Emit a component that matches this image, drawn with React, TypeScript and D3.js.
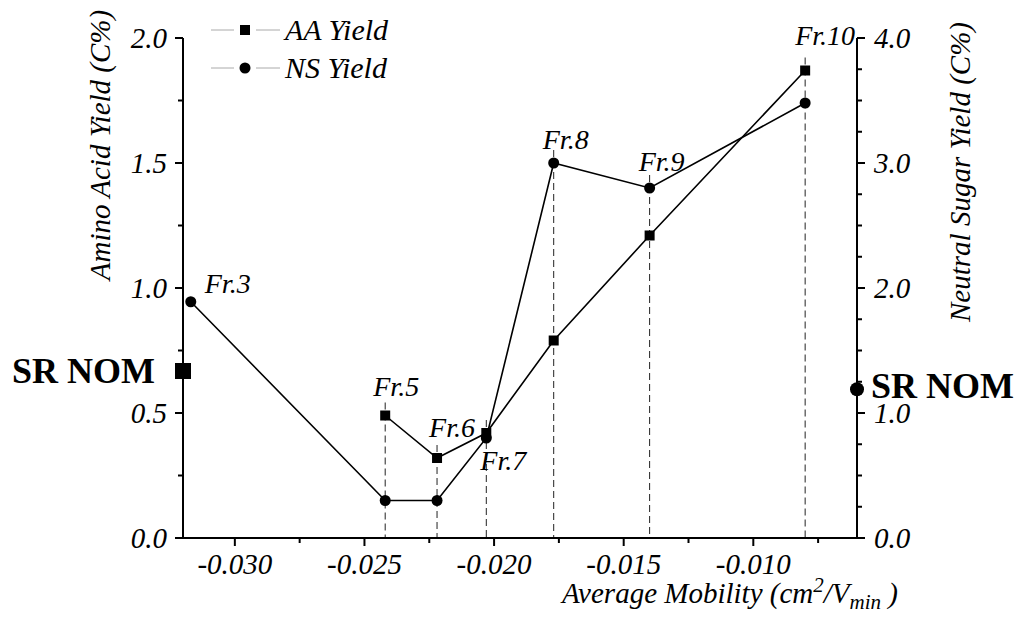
import React from "react";
import * as d3 from "d3";

// Fractions and their average electrophoretic mobility (cm2/V min)
const fractions = ["Fr.3", "Fr.5", "Fr.6", "Fr.7", "Fr.8", "Fr.9", "Fr.10"];
const mobility = [-0.0317, -0.0242, -0.0222, -0.0203, -0.0177, -0.014, -0.008];
// Amino acid yield (C%), left axis; Fr.3 has no AA value
const aaYield: (number | null)[] = [null, 0.49, 0.32, 0.42, 0.79, 1.21, 1.87];
// Neutral sugar yield (C%), right axis
const nsYield = [1.89, 0.3, 0.3, 0.8, 3.0, 2.8, 3.48];
// Bulk SR NOM reference values
const srNomAA = 0.668;
const srNomNS = 1.19;

const xTickValues = [-0.03, -0.025, -0.02, -0.015, -0.01];
const xMinorValues = [-0.0275, -0.0225, -0.0175, -0.0125, -0.0075];
const leftTickValues = [0, 0.5, 1.0, 1.5, 2.0];
const leftMinorValues = [0.25, 0.75, 1.25, 1.75];
const rightTickValues = [0, 1.0, 2.0, 3.0, 4.0];
const rightMinorValues = [0.25, 0.5, 0.75, 1.25, 1.5, 1.75, 2.25, 2.5, 2.75, 3.25, 3.5, 3.75];

// Where each fraction label sits relative to its uppermost marker
const labelPlacement: Record<string, { dx: number; dy: number; anchor: string; ref: "top" | "ns" }> = {
  "Fr.3": { dx: 14, dy: -9, anchor: "start", ref: "ns" },
  "Fr.5": { dx: 11, dy: -20, anchor: "middle", ref: "top" },
  "Fr.6": { dx: 15, dy: -21, anchor: "middle", ref: "top" },
  "Fr.7": { dx: 17, dy: 37, anchor: "middle", ref: "top" },
  "Fr.8": { dx: 12, dy: -14, anchor: "middle", ref: "top" },
  "Fr.9": { dx: 12, dy: -17, anchor: "middle", ref: "top" },
  "Fr.10": { dx: 20, dy: -26, anchor: "middle", ref: "top" },
};

const W = 1023;
const H = 619;
const plot = { left: 183, right: 857, top: 38, bottom: 538 };
const serif = "Liberation Serif, Times New Roman, serif";

export default function App() {
  const x = d3.scaleLinear().domain([-0.032, -0.006]).range([plot.left, plot.right]);
  const yL = d3.scaleLinear().domain([0, 2]).range([plot.bottom, plot.top]);
  const yR = d3.scaleLinear().domain([0, 4]).range([plot.bottom, plot.top]);

  const aaPts = fractions
    .map((f, i) => ({ f, x: mobility[i], v: aaYield[i] }))
    .filter((d) => d.v !== null) as { f: string; x: number; v: number }[];
  const nsPts = fractions.map((f, i) => ({ f, x: mobility[i], v: nsYield[i] }));

  const aaLine = d3
    .line<{ x: number; v: number }>()
    .x((d) => x(d.x))
    .y((d) => yL(d.v));
  const nsLine = d3
    .line<{ x: number; v: number }>()
    .x((d) => x(d.x))
    .y((d) => yR(d.v));

  const topY = (i: number) => {
    const a = aaYield[i];
    const ys = [yR(nsYield[i])];
    if (a !== null) ys.push(yL(a));
    return Math.min(...ys);
  };

  const sq = 10;
  const r = 5.5;
  const it = { fontFamily: serif, fontStyle: "italic" as const };
  const bold = { fontFamily: serif, fontWeight: 700 as const };

  return (
    <svg
      width={W}
      height={H}
      style={{ position: "absolute", left: 0, top: 0, background: "#fff", fontFamily: serif }}
    >
      {/* drop lines from each fraction to the mobility axis */}
      {fractions.map((f, i) =>
        aaYield[i] === null ? null : (
          <line
            key={"drop" + f}
            x1={x(mobility[i])}
            x2={x(mobility[i])}
            y1={topY(i) - 13}
            y2={plot.bottom}
            stroke="#222"
            strokeWidth={1}
            strokeDasharray="7,4"
          />
        )
      )}

      {/* series lines */}
      <path d={aaLine(aaPts) || ""} fill="none" stroke="#000" strokeWidth={1.6} />
      <path d={nsLine(nsPts) || ""} fill="none" stroke="#000" strokeWidth={1.6} />

      {/* markers */}
      {nsPts.map((d) => (
        <circle key={"ns" + d.f} cx={x(d.x)} cy={yR(d.v)} r={r} fill="#000" />
      ))}
      {aaPts.map((d) => (
        <rect
          key={"aa" + d.f}
          x={x(d.x) - sq / 2}
          y={yL(d.v) - sq / 2}
          width={sq}
          height={sq}
          fill="#000"
        />
      ))}

      {/* fraction labels */}
      {fractions.map((f, i) => {
        const p = labelPlacement[f];
        const baseY = p.ref === "ns" ? yR(nsYield[i]) : topY(i);
        return (
          <text
            key={"lab" + f}
            x={x(mobility[i]) + p.dx}
            y={baseY + p.dy}
            textAnchor={p.anchor}
            fontSize={28}
            style={it}
          >
            {f}
          </text>
        );
      })}

      {/* axes */}
      <line x1={plot.left} x2={plot.right} y1={plot.bottom} y2={plot.bottom} stroke="#000" strokeWidth={2} />
      <line x1={plot.left} x2={plot.left} y1={plot.top} y2={plot.bottom} stroke="#000" strokeWidth={2} />
      <line x1={plot.right} x2={plot.right} y1={plot.top} y2={plot.bottom} stroke="#000" strokeWidth={2} />

      {xTickValues.map((v) => (
        <g key={"xt" + v}>
          <line x1={x(v)} x2={x(v)} y1={plot.bottom} y2={plot.bottom + 8} stroke="#000" strokeWidth={2} />
          <text x={x(v)} y={574} textAnchor="middle" fontSize={29} style={it}>
            {d3.format(".3f")(v).replace("−", "-")}
          </text>
        </g>
      ))}
      {xMinorValues.map((v) => (
        <line key={"xm" + v} x1={x(v)} x2={x(v)} y1={plot.bottom} y2={plot.bottom + 5} stroke="#000" strokeWidth={2} />
      ))}

      {leftTickValues.map((v) => (
        <g key={"lt" + v}>
          <line x1={plot.left - 8} x2={plot.left} y1={yL(v)} y2={yL(v)} stroke="#000" strokeWidth={2} />
          <text x={167} y={yL(v) + 10} textAnchor="end" fontSize={29} style={it}>
            {d3.format(".1f")(v)}
          </text>
        </g>
      ))}
      {leftMinorValues.map((v) => (
        <line key={"lm" + v} x1={plot.left - 5} x2={plot.left} y1={yL(v)} y2={yL(v)} stroke="#000" strokeWidth={2} />
      ))}

      {rightTickValues.map((v) => (
        <g key={"rt" + v}>
          <line x1={plot.right} x2={plot.right + 8} y1={yR(v)} y2={yR(v)} stroke="#000" strokeWidth={2} />
          <text x={874} y={yR(v) + 10} textAnchor="start" fontSize={29} style={it}>
            {d3.format(".1f")(v)}
          </text>
        </g>
      ))}
      {rightMinorValues.map((v) => (
        <line key={"rm" + v} x1={plot.right} x2={plot.right + 5} y1={yR(v)} y2={yR(v)} stroke="#000" strokeWidth={2} />
      ))}

      {/* axis titles */}
      <text transform="translate(110, 145) rotate(-90)" textAnchor="middle" fontSize={29} style={it}>
        Amino Acid Yield (C%)
      </text>
      <text transform="translate(970, 172) rotate(-90)" textAnchor="middle" fontSize={29} style={it}>
        Neutral Sugar Yield (C%)
      </text>
      <text x={562} y={603} fontSize={29} style={it}>
        Average Mobility (cm
        <tspan fontSize={21} dy={-11}>2</tspan>
        <tspan dy={11}>/V</tspan>
        <tspan fontSize={21} dy={6}>min</tspan>
        <tspan dy={-6}> )</tspan>
      </text>

      {/* SR NOM reference markers */}
      <rect x={plot.left - 8} y={yL(srNomAA) - 8} width={16} height={16} fill="#000" />
      <text x={12} y={yL(srNomAA) + 12} fontSize={36} style={bold}>
        SR NOM
      </text>
      <circle cx={plot.right} cy={yR(srNomNS)} r={7} fill="#000" />
      <text x={871} y={yR(srNomNS) + 9} fontSize={36} style={bold}>
        SR NOM
      </text>

      {/* legend */}
      <g>
        <line x1={211} x2={234} y1={30} y2={30} stroke="#aaa" strokeWidth={1} />
        <line x1={256} x2={280} y1={30} y2={30} stroke="#aaa" strokeWidth={1} />
        <rect x={245 - sq / 2} y={30 - sq / 2} width={sq} height={sq} fill="#000" />
        <text x={285} y={40} fontSize={30} style={it}>AA Yield</text>
        <line x1={211} x2={234} y1={68} y2={68} stroke="#aaa" strokeWidth={1} />
        <line x1={256} x2={280} y1={68} y2={68} stroke="#aaa" strokeWidth={1} />
        <circle cx={245} cy={68} r={r} fill="#000" />
        <text x={285} y={78} fontSize={30} style={it}>NS Yield</text>
      </g>
    </svg>
  );
}
